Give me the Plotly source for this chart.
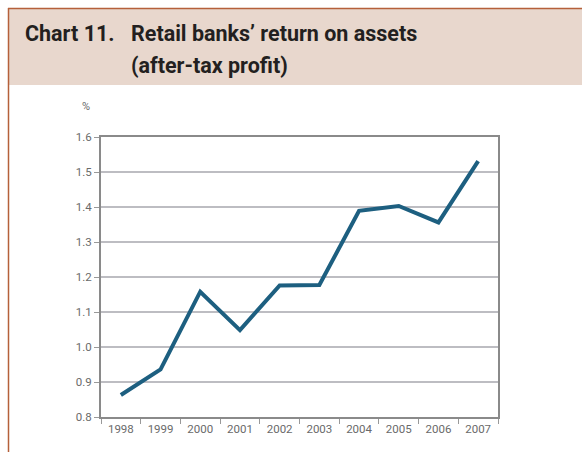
import plotly.graph_objects as go

# Retail banks' return on assets, after-tax profit (%)
years = ["1998", "1999", "2000", "2001", "2002", "2003", "2004", "2005", "2006", "2007"]
roa = [0.863, 0.936, 1.158, 1.048, 1.176, 1.177, 1.389, 1.403, 1.356, 1.531]
y_ticks = [0.8, 0.9, 1.0, 1.1, 1.2, 1.3, 1.4, 1.5, 1.6]

W, H = 582, 455
ML, MR, MT, MB = 101, 84, 137, 38
PW, PH = W - ML - MR, H - MT - MB


def px_x(x):
    return (x - ML) / PW


def px_y(y):
    return (H - MB - y) / PH


fig = go.Figure()
fig.add_trace(go.Scatter(
    x=years, y=roa, mode="lines",
    line=dict(color="#1d5f80", width=4),
    hoverinfo="x+y",
))

axis_font = dict(family="Roboto, Arial, sans-serif", size=11.5, color="#6a6a6a")
title_font = dict(family="Roboto, Arial, sans-serif", size=21.5, color="#231f20", weight="bold")

fig.update_layout(
    width=W, height=H,
    margin=dict(l=ML, r=MR, t=MT, b=MB),
    paper_bgcolor="white", plot_bgcolor="white",
    showlegend=False,
    xaxis=dict(
        type="category", range=[-0.5, 9.5],
        tickson="boundaries", ticks="outside", ticklen=5, tickcolor="#999999",
        tickfont=axis_font, showgrid=False,
        showline=True, linecolor="#8a8a8a", linewidth=2, mirror=True,
    ),
    yaxis=dict(
        range=[0.8, 1.6], tickvals=y_ticks, tickformat=".1f",
        ticks="outside", ticklen=5, tickcolor="#999999",
        tickfont=axis_font,
        showgrid=True, gridcolor="#bdbdc2", gridwidth=1.5,
        showline=True, linecolor="#8a8a8a", linewidth=2, mirror=True,
        zeroline=False,
    ),
    shapes=[
        # header panel
        dict(type="rect", xref="paper", yref="paper",
             x0=px_x(9), x1=px_x(W + 2), y0=px_y(85), y1=px_y(9),
             fillcolor="#e8d7cd", line=dict(width=0), layer="below"),
        # frame: top rule and left rule
        dict(type="line", xref="paper", yref="paper",
             x0=px_x(8), x1=px_x(W + 2), y0=px_y(8.5), y1=px_y(8.5),
             line=dict(color="#b5603a", width=1.5)),
        dict(type="line", xref="paper", yref="paper",
             x0=px_x(8.5), x1=px_x(8.5), y0=px_y(8), y1=px_y(452),
             line=dict(color="#b5603a", width=1.5)),
    ],
    annotations=[
        dict(text="Chart 11.", xref="paper", yref="paper",
             x=px_x(23), y=px_y(33), xanchor="left", yanchor="middle",
             showarrow=False, font=title_font),
        dict(text="Retail banks’ return on assets", xref="paper", yref="paper",
             x=px_x(129), y=px_y(33), xanchor="left", yanchor="middle",
             showarrow=False, font=title_font),
        dict(text="(after-tax profit)", xref="paper", yref="paper",
             x=px_x(129), y=px_y(65), xanchor="left", yanchor="middle",
             showarrow=False, font=title_font),
        dict(text="%", xref="paper", yref="paper",
             x=px_x(86), y=px_y(107), xanchor="center", yanchor="middle",
             showarrow=False, font=dict(family="Roboto, Arial, sans-serif", size=11, color="#6a6a6a")),
    ],
)

fig.write_html("out.html")
